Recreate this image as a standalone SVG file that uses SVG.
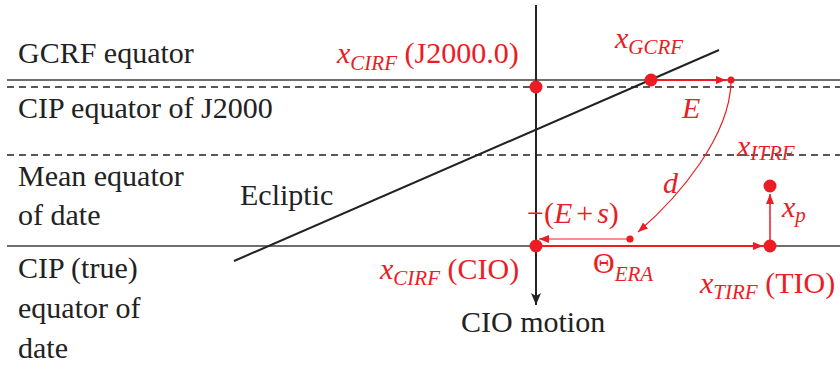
<svg xmlns="http://www.w3.org/2000/svg" width="840" height="367" viewBox="0 0 840 367">
<defs>
<marker id="ar" markerUnits="userSpaceOnUse" markerWidth="11" markerHeight="9" refX="10" refY="4" orient="auto"><path d="M0,0 L10,4 L0,8 z" fill="#ec1c24"/></marker>
<marker id="ak" markerUnits="userSpaceOnUse" markerWidth="10" markerHeight="13" refX="5" refY="12" orient="0"><path d="M0,0 L5,12 L10,0 L5,3 z" fill="#222"/></marker>
</defs>
<rect width="840" height="367" fill="#fff"/>
<g id="equators" fill="none">
<line stroke="#6e6e6e" stroke-width="2" x1="7" y1="80" x2="840" y2="80"/>
<line stroke="#222" stroke-width="1.3" stroke-dasharray="7 5" x1="7" y1="87" x2="840" y2="87"/>
<line stroke="#222" stroke-width="1.3" stroke-dasharray="7 5" x1="7" y1="155" x2="840" y2="155"/>
<line stroke="#6e6e6e" stroke-width="2" x1="7" y1="246" x2="840" y2="246"/>
</g>
<g id="labels" fill="#222" font-family="Liberation Serif" font-size="30">
<text x="18" y="63" font-family="Liberation Serif">GCRF equator</text>
<text x="18" y="118" font-family="Liberation Serif">CIP equator of J2000</text>
<text x="18" y="186" font-family="Liberation Serif">Mean equator</text>
<text x="18" y="225" font-family="Liberation Serif">of date</text>
<text x="18" y="278" font-family="Liberation Serif">CIP (true)</text>
<text x="18" y="318" font-family="Liberation Serif">equator of</text>
<text x="18" y="358" font-family="Liberation Serif">date</text>
</g>
<g id="ecliptic">
<line x1="234" y1="261" x2="719" y2="50" stroke="#222" stroke-width="2"/>
<text fill="#222" x="240" y="205" font-family="Liberation Serif" font-size="30">Ecliptic</text>
</g>
<g id="cio-axis">
<line x1="536" y1="5" x2="536" y2="305" stroke="#222" stroke-width="2" marker-end="url(#ak)"/>
<text fill="#222" x="461" y="332" font-family="Liberation Serif" font-size="30">CIO motion</text>
</g>
<g id="connectors" fill="none" stroke="#ec1c24">
<line stroke-width="1.8" x1="651" y1="80" x2="726" y2="80" marker-end="url(#ar)"/>
<path stroke-width="1.2" d="M731,83 C729,136 681,195 638,232" marker-end="url(#ar)"/>
<line stroke-width="1.2" x1="630" y1="239" x2="539" y2="239" marker-end="url(#ar)"/>
<line stroke-width="2" x1="536" y1="246" x2="763" y2="246" marker-end="url(#ar)"/>
<line stroke-width="1.5" x1="770" y1="246" x2="770" y2="194" marker-end="url(#ar)"/>
</g>
<g id="connector-labels" fill="#ec1c24" font-family="Liberation Serif" font-size="30">
<text x="682" y="118" font-family="Liberation Serif" font-style="italic">E</text>
<text x="663" y="193" font-family="Liberation Serif" font-style="italic">d</text>
<text x="527" y="223" font-family="Liberation Serif">−(<tspan font-style="italic">E</tspan><tspan dx="4">+</tspan><tspan dx="4" font-style="italic">s</tspan>)</text>
<text x="593" y="273" font-family="Liberation Serif">Θ<tspan font-size="21" font-style="italic" dy="8">ERA</tspan></text>
<text x="782" y="217" font-family="Liberation Serif"><tspan font-style="italic">x</tspan><tspan font-size="21" font-style="italic" dy="5">p</tspan></text>
</g>
<g id="x-cirf-j2000" fill="#ec1c24">
<circle cx="536" cy="87" r="6.5"/>
<text x="337" y="63" font-family="Liberation Serif" font-size="30"><tspan font-style="italic">x</tspan><tspan font-size="21" font-style="italic" dy="7">CIRF</tspan><tspan dy="-7"> (J2000.0)</tspan></text>
</g>
<g id="x-gcrf" fill="#ec1c24">
<circle cx="651" cy="80" r="6.5"/>
<text x="615" y="48" font-family="Liberation Serif" font-size="30"><tspan font-style="italic">x</tspan><tspan font-size="21" font-style="italic" dy="6">GCRF</tspan></text>
</g>
<g id="e-point" fill="#ec1c24">
<circle cx="731" cy="80" r="3.5"/>
</g>
<g id="d-point" fill="#ec1c24">
<circle cx="630" cy="239" r="3.6"/>
</g>
<g id="x-itrf" fill="#ec1c24">
<circle cx="770" cy="186" r="6.5"/>
<text x="737" y="156" font-family="Liberation Serif" font-size="30"><tspan font-style="italic">x</tspan><tspan font-size="21" font-style="italic" dy="4">ITRF</tspan></text>
</g>
<g id="x-cirf-cio" fill="#ec1c24">
<circle cx="536" cy="246" r="6.5"/>
<text x="380" y="279" font-family="Liberation Serif" font-size="30"><tspan font-style="italic">x</tspan><tspan font-size="21" font-style="italic" dy="6">CIRF</tspan><tspan dy="-6"> (CIO)</tspan></text>
</g>
<g id="x-tirf-tio" fill="#ec1c24">
<circle cx="770" cy="246" r="6.5"/>
<text x="700" y="293" font-family="Liberation Serif" font-size="30"><tspan font-style="italic">x</tspan><tspan font-size="21" font-style="italic" dy="6">TIRF</tspan><tspan dy="-6"> (TIO)</tspan></text>
</g>
</svg>
